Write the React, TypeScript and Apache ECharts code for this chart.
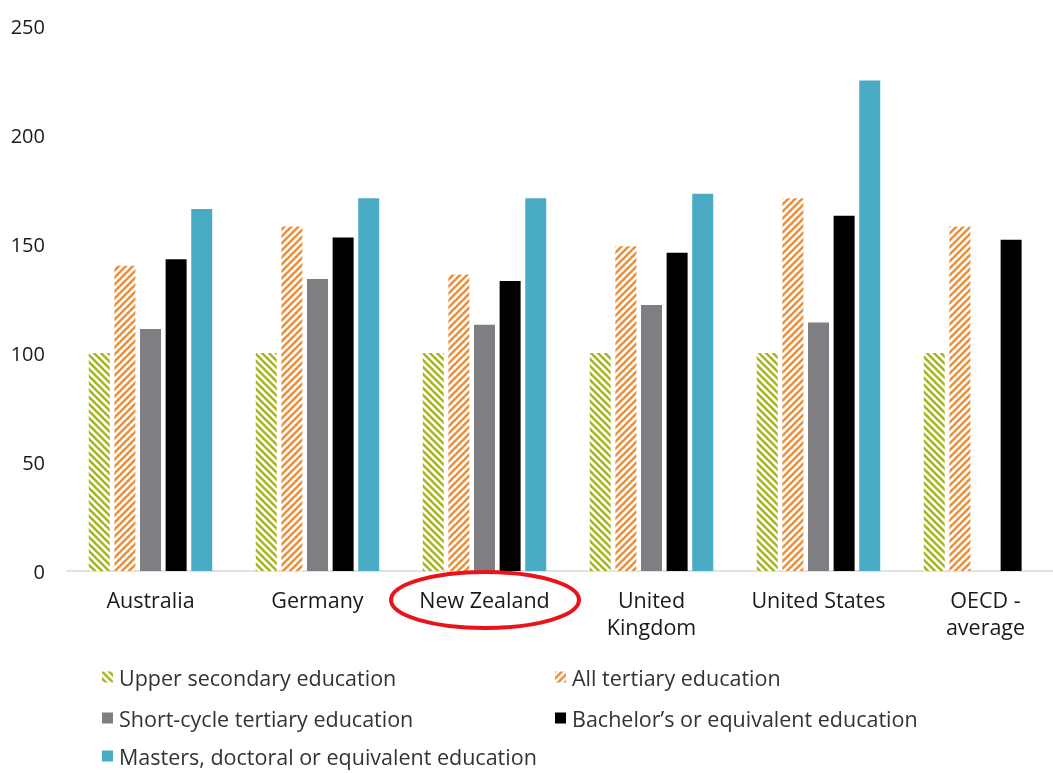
import React, { useEffect, useRef } from "react";
import * as echarts from "echarts";

const categories = ["Australia", "Germany", "New Zealand", "United\nKingdom", "United States", "OECD -\naverage"];
const seriesNames = [
  "Upper secondary education",
  "All tertiary education",
  "Short-cycle tertiary education",
  "Bachelor\u2019s or equivalent education",
  "Masters, doctoral or equivalent education",
];
const upperSecondary = [100, 100, 100, 100, 100, 100];
const allTertiary = [140, 158, 136, 149, 171, 158];
const shortCycle = [111, 134, 113, 122, 114, null];
const bachelors = [143, 153, 133, 146, 163, 152];
const masters = [166, 171, 171, 173, 225, null];
const yTicks = [0, 50, 100, 150, 200, 250];

function stripePattern(color: string, forward: boolean) {
  const s = 7;
  const c = document.createElement("canvas");
  c.width = s;
  c.height = s;
  const ctx = c.getContext("2d")!;
  ctx.fillStyle = "#ffffff";
  ctx.fillRect(0, 0, s, s);
  ctx.strokeStyle = color;
  ctx.lineWidth = 2.6;
  const lines = forward
    ? [[-1, s + 1, s + 1, -1], [-1, 1, 1, -1], [s - 1, s + 1, s + 1, s - 1]]
    : [[-1, -1, s + 1, s + 1], [-1, s - 1, 1, s + 1], [s - 1, -1, s + 1, 1]];
  for (const [x1, y1, x2, y2] of lines) {
    ctx.beginPath();
    ctx.moveTo(x1, y1);
    ctx.lineTo(x2, y2);
    ctx.stroke();
  }
  return { image: c, repeat: "repeat" } as any;
}

export default function App() {
  const ref = useRef<HTMLDivElement>(null);
  useEffect(() => {
    const chart = echarts.init(ref.current!, null, { renderer: "svg" });
    const font = "'Open Sans', sans-serif";
    const colors = [
      stripePattern("#a8b520", false),
      stripePattern("#e8913f", true),
      "#7f7f83",
      "#000000",
      "#4aabc5",
    ];
    const dataSets = [upperSecondary, allTertiary, shortCycle, bachelors, masters];
    const legendPos = [
      { left: 102, top: 666 },
      { left: 555, top: 666 },
      { left: 102, top: 707 },
      { left: 555, top: 707 },
      { left: 102, top: 745 },
    ];
    chart.setOption({
      animation: false,
      textStyle: { fontFamily: font },
      grid: { left: 67, top: 26, width: 1002, height: 545, containLabel: false },
      xAxis: {
        type: "category",
        data: categories,
        axisLine: { lineStyle: { color: "#d9d9d9", width: 1.5 } },
        axisTick: { show: false },
        axisLabel: { color: "#1a1a1a", fontSize: 21.5, fontFamily: font, margin: 15, lineHeight: 27, interval: 0 },
      },
      yAxis: {
        type: "value",
        min: 0,
        max: 250,
        interval: 50,
        splitLine: { show: false },
        axisLine: { show: false },
        axisTick: { show: false },
        axisLabel: {
          color: "#1a1a1a",
          fontSize: 20,
          fontFamily: font,
          margin: 22,
          formatter: (v: number) => (yTicks.includes(v) ? String(v) : ""),
        },
      },
      legend: seriesNames.map((n, i) => ({
        data: [n],
        left: legendPos[i].left,
        top: legendPos[i].top,
        icon: "rect",
        itemWidth: 11,
        itemHeight: 11,
        itemGap: 6,
        padding: 0,
        textStyle: { fontSize: 21.5, color: "#333333", fontFamily: font, padding: [0, 0, 0, 1] },
      })),
      series: dataSets.map((d, i) => ({
        name: seriesNames[i],
        type: "bar",
        data: d,
        barWidth: 21,
        barGap: "22%",
        itemStyle: { color: colors[i] },
      })),
      graphic: [
        {
          type: "ellipse",
          shape: { cx: 485, cy: 600, rx: 94, ry: 28 },
          style: { fill: "none", stroke: "#e8141b", lineWidth: 4 },
          z: 100,
        },
      ],
    });
    return () => chart.dispose();
  }, []);
  return (
    <div style={{ position: "fixed", left: 0, top: 0, width: 1053, height: 773, overflow: "hidden" }}>
      <div ref={ref} style={{ width: 1080, height: 773 }} />
    </div>
  );
}
